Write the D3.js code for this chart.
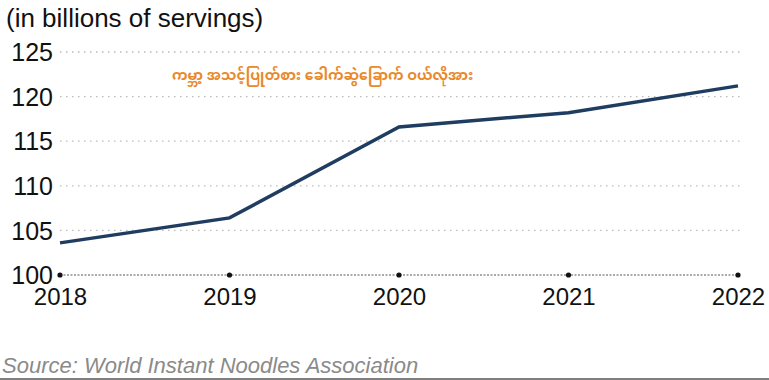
<!DOCTYPE html>
<html><head><meta charset="utf-8">
<script src="https://cdn.jsdelivr.net/npm/d3@7"></script>
<style>
body{margin:0;background:#fff;}
svg{display:block;}
</style></head>
<body>
<svg id="chart" width="769" height="380"></svg>
<script>
const years = [2018, 2019, 2020, 2021, 2022];
const servings = [103.6, 106.4, 116.6, 118.2, 121.2];
const yTicks = [100, 105, 110, 115, 120, 125];
const title = "(in billions of servings)";
const note = "ကမ္ဘာ့ အသင့်ပြုတ်စား ခေါက်ဆွဲခြောက် ဝယ်လိုအား";
const source = "Source: World Instant Noodles Association";

const svg = d3.select("#chart");
const font = "'Liberation Sans', Arial, sans-serif";
const x = d3.scalePoint().domain(years).range([60, 738]);
const y = d3.scaleLinear().domain([100, 125]).range([275, 52]);

svg.append("text").attr("x", 6).attr("y", 27).attr("font-family", font)
  .attr("font-size", 26).attr("fill", "#111").text(title);

// grid
svg.append("g").selectAll("line").data(yTicks.filter(d => d > 100)).join("line")
  .attr("x1", 60).attr("x2", 740).attr("y1", d => y(d)).attr("y2", d => y(d))
  .attr("stroke", "#bbb").attr("stroke-width", 1.3).attr("stroke-dasharray", "1.5,4.5");

// baseline
svg.append("line").attr("x1", 60).attr("x2", 738).attr("y1", y(100)).attr("y2", y(100))
  .attr("stroke", "#555").attr("stroke-width", 1).attr("stroke-dasharray", "2,1.5");

// y axis labels
const yAxis = d3.axisLeft(y).tickValues(yTicks).tickSize(0).tickPadding(0);
const gy = svg.append("g").attr("transform", "translate(53,0)").call(yAxis);
gy.select(".domain").remove();
gy.selectAll("text").attr("font-family", font).attr("font-size", 25).attr("fill", "#111").attr("dy", "0.35em");

// x axis labels
const xAxis = d3.axisBottom(x).tickSize(0).tickPadding(0);
const gx = svg.append("g").attr("transform", "translate(0,288)").call(xAxis);
gx.select(".domain").remove();
gx.selectAll("text").attr("font-family", font).attr("font-size", 24).attr("fill", "#111").attr("dy", "0.71em");

// tick dots
svg.append("g").selectAll("circle").data(years).join("circle")
  .attr("cx", d => x(d)).attr("cy", y(100)).attr("r", 2.6).attr("fill", "#111");

// line
const data = years.map((yr, i) => ({yr, v: servings[i]}));
svg.append("path").datum(data)
  .attr("d", d3.line().x(d => x(d.yr)).y(d => y(d.v)))
  .attr("fill", "none").attr("stroke", "#1f3d60").attr("stroke-width", 3.5);

// note
svg.append("text").attr("x", 172).attr("y", 80).attr("font-family", "'Noto Sans Myanmar', 'Padauk', 'Myanmar Text', sans-serif")
  .attr("font-size", 14).attr("font-weight", "bold").attr("fill", "#e8892c").text(note);

// source
svg.append("text").attr("x", 2).attr("y", 373).attr("font-family", font).attr("font-style", "italic")
  .attr("font-size", 22).attr("fill", "#8a8a8a").text(source);

svg.append("line").attr("x1", 0).attr("x2", 769).attr("y1", 379).attr("y2", 379)
  .attr("stroke", "#555").attr("stroke-width", 1.5);
</script>
</body></html>
